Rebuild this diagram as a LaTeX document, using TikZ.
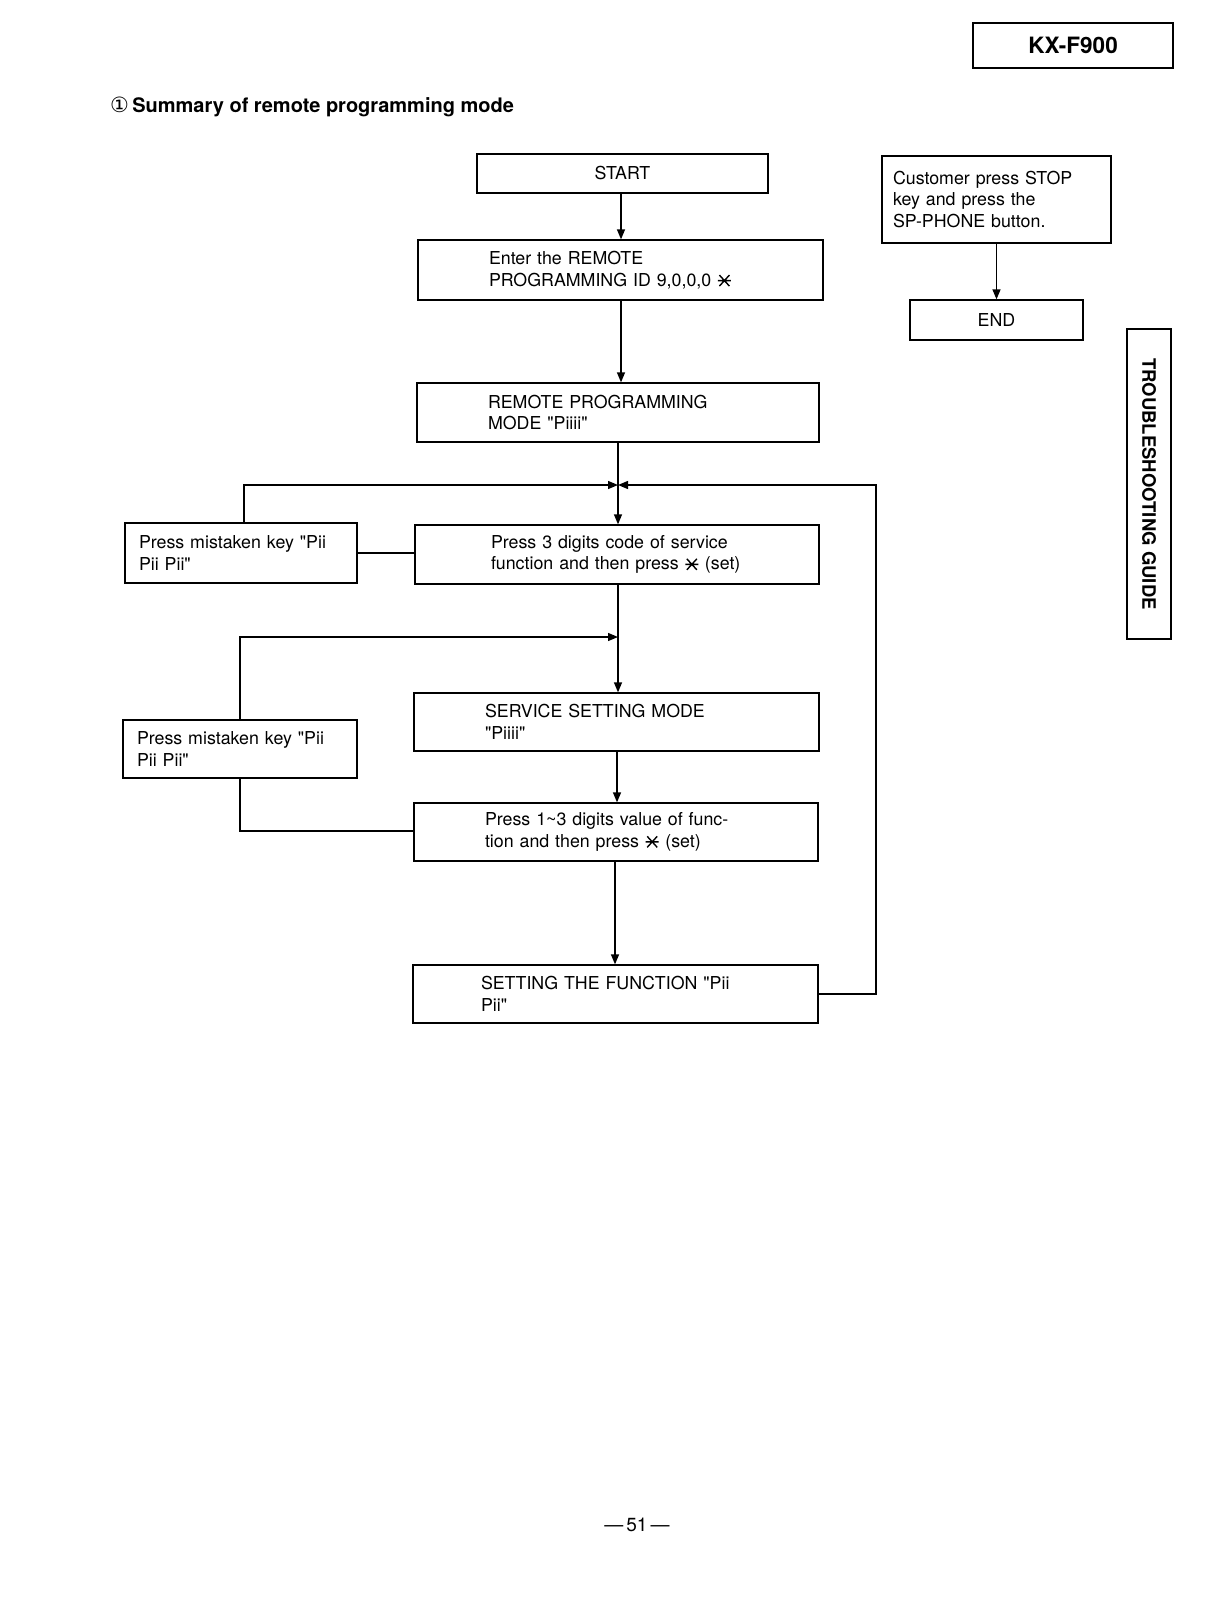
\documentclass[tikz,border=0pt]{standalone}
\usepackage{fontspec}
\setmainfont{TeX Gyre Heros}
\newfontfamily\dejavu{DejaVu Sans}
\usetikzlibrary{arrows.meta}
\newcommand\skey{\tikz[baseline={(0,-5.5pt)}]{\draw[line width=1.4pt] (-6.5pt,0)--(6.5pt,0) (-5pt,-5.5pt)--(5pt,5.5pt) (-5pt,5.5pt)--(5pt,-5.5pt);}}
\newcommand\qq{\textquotedbl}
\begin{document}
\begin{tikzpicture}[x=1pt,y=-1pt,
  box/.style={draw, line width=1.3pt, inner sep=0pt, font=\fontsize{17.8}{21.5}\selectfont, align=left},
  cbox/.style={draw, line width=1.3pt, inner sep=0pt, font=\fontsize{17.8}{21.5}\selectfont, align=center},
  conn/.style={line width=1.3pt},
  arr/.style={line width=1.3pt, -{Triangle[length=10pt,width=8pt]}}]
\useasboundingbox (0,0) rectangle (1216,1612);
% header
\node[draw, line width=1.3pt, minimum width=200pt, minimum height=45pt, font=\fontsize{22.5}{26}\selectfont\bfseries] (model) at (1073,45.5) {KX-F900};
\node[anchor=west, inner sep=0pt, font=\fontsize{20}{23}\selectfont\bfseries] (title) at (110,107) {{\dejavu\mdseries\fontsize{21}{23}\selectfont ①}\,Summary of remote programming mode};
\node[draw, line width=1.3pt, rotate=-90, minimum width=310pt, minimum height=44pt, font=\fontsize{18.5}{21}\selectfont\bfseries] (tab) at (1149,484) {TROUBLESHOOTING GUIDE};
% main flow
\node[cbox, minimum width=291pt, minimum height=39pt] (start) at (622.5,173.5) {START};
\node[box, text width=405pt, minimum height=60pt] (enter) at (620.5,270) {\hspace*{71pt}Enter the REMOTE\\\hspace*{71pt}PROGRAMMING ID 9,0,0,0 \skey};
\node[box, text width=402pt, minimum height=59pt] (remote) at (618,412.5) {\hspace*{71pt}REMOTE PROGRAMMING\\\hspace*{71pt}MODE \qq Piiii\qq};
\node[box, text width=404pt, minimum height=59pt] (code) at (617,554.5) {\hspace*{76pt}Press 3 digits code of service\\\hspace*{76pt}function and then press \skey{} (set)};
\node[box, text width=405pt, minimum height=58pt] (service) at (616.5,722) {\hspace*{71pt}SERVICE SETTING MODE\\\hspace*{71pt}\qq Piiii\qq};
\node[box, text width=404pt, minimum height=58pt] (value) at (616,832) {\hspace*{71pt}Press 1\textasciitilde3 digits value of func-\\\hspace*{71pt}tion and then press \skey{} (set)};
\node[box, text width=405pt, minimum height=58pt] (setting) at (615.5,994) {\hspace*{68pt}SETTING THE FUNCTION \qq Pii\\\hspace*{68pt}Pii\qq};
% mistaken boxes
\node[box, text width=232pt, minimum height=60pt] (mist1) at (241,553) {\hspace*{14pt}Press mistaken key \qq Pii\\\hspace*{14pt}Pii Pii\qq};
\node[box, text width=234pt, minimum height=58pt] (mist2) at (240,749) {\hspace*{14pt}Press mistaken key \qq Pii\\\hspace*{14pt}Pii Pii\qq};
% customer / end
\node[box, text width=229pt, minimum height=87pt] (cust) at (996.5,199.5) {\hspace*{11pt}Customer press STOP\\\hspace*{11pt}key and press the\\\hspace*{11pt}SP-PHONE button.};
\node[cbox, minimum width=173pt, minimum height=40pt] (end) at (996.5,320) {END};
% page number
\node[font=\fontsize{19}{22}\selectfont] (page) at (637,1525) {---\,51\,---};
% junctions
\coordinate (j1) at (618,485);
\coordinate (j2) at (618,637);
\coordinate (rloop) at (876,485);
% connectors
\draw[arr] (start.south -| 621,0) -- (621,0 |- enter.north);
\draw[arr] (enter.south -| 621,0) -- (621,0 |- remote.north);
\draw[conn] (remote.south -| j1) -- (j1);
\draw[arr] (j1) -- (j1 |- code.north);
\draw[arr] (mist1.north -| 244,0) -- (244,0 |- j1) -- (j1);
\draw[arr] (setting.east) -- (setting.east -| rloop) -- (rloop) -- (j1);
\draw[conn] (mist1.east) -- (mist1.east -| code.west);
\draw[conn] (code.south -| j2) -- (j2);
\draw[arr] (j2) -- (j2 |- service.north);
\draw[arr] (mist2.north) -- (mist2.north |- j2) -- (j2);
\draw[conn] (mist2.south) -- (240,831) -- (240,831 -| value.west);
\draw[arr] (service.south -| 617,0) -- (617,0 |- value.north);
\draw[arr] (value.south -| 615,0) -- (615,0 |- setting.north);
\draw[arr] (cust.south) -- (end.north);
\end{tikzpicture}
\end{document}
